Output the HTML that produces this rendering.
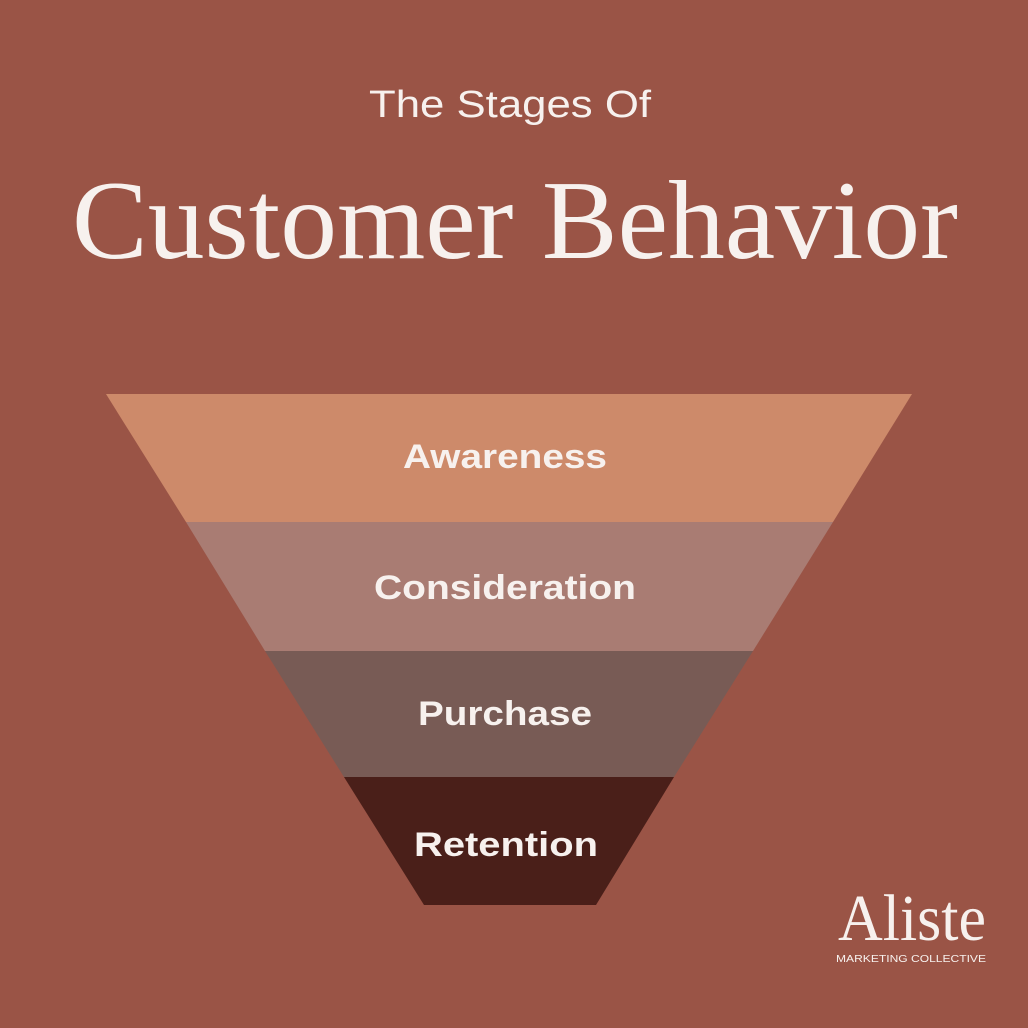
<!DOCTYPE html>
<html><head><meta charset="utf-8"><style>
html,body{margin:0;padding:0;background:#9a5446;}
svg{display:block}
</style></head><body>
<svg width="1028" height="1028" viewBox="0 0 1028 1028" xmlns="http://www.w3.org/2000/svg">
<rect width="1028" height="1028" fill="#9a5446"/>
<text x="510" y="117" text-anchor="middle" font-family="Liberation Sans, sans-serif" font-size="38" fill="#f7f1ee" textLength="282" lengthAdjust="spacingAndGlyphs">The Stages Of</text>
<text x="515" y="258" text-anchor="middle" font-family="Liberation Serif, serif" font-size="112" fill="#f7f1ee" textLength="886" lengthAdjust="spacingAndGlyphs">Customer Behavior</text>
<polygon points="106,394 912,394 833,522 186,522" fill="#cd8a6a"/>
<polygon points="186,522 833,522 753,651 265,651" fill="#a97c73"/>
<polygon points="265,651 753,651 674,777 344,777" fill="#785b55"/>
<polygon points="344,777 674,777 596,905 424,905" fill="#4a1f19"/>
<g font-family="Liberation Sans, sans-serif" font-weight="bold" font-size="34" fill="#f7f1ee" text-anchor="middle">
<text x="505" y="468" textLength="204" lengthAdjust="spacingAndGlyphs">Awareness</text>
<text x="505" y="599" textLength="262" lengthAdjust="spacingAndGlyphs">Consideration</text>
<text x="505" y="725" textLength="174" lengthAdjust="spacingAndGlyphs">Purchase</text>
<text x="506" y="856" textLength="184" lengthAdjust="spacingAndGlyphs">Retention</text>
</g>
<text x="912" y="940" text-anchor="middle" font-family="Liberation Serif, serif" font-size="66" fill="#f7f1ee" textLength="148" lengthAdjust="spacingAndGlyphs">Aliste</text>
<text x="911" y="962" text-anchor="middle" font-family="Liberation Sans, sans-serif" font-size="10" fill="#f7f1ee" textLength="150" lengthAdjust="spacingAndGlyphs">MARKETING COLLECTIVE</text>
</svg>
</body></html>
